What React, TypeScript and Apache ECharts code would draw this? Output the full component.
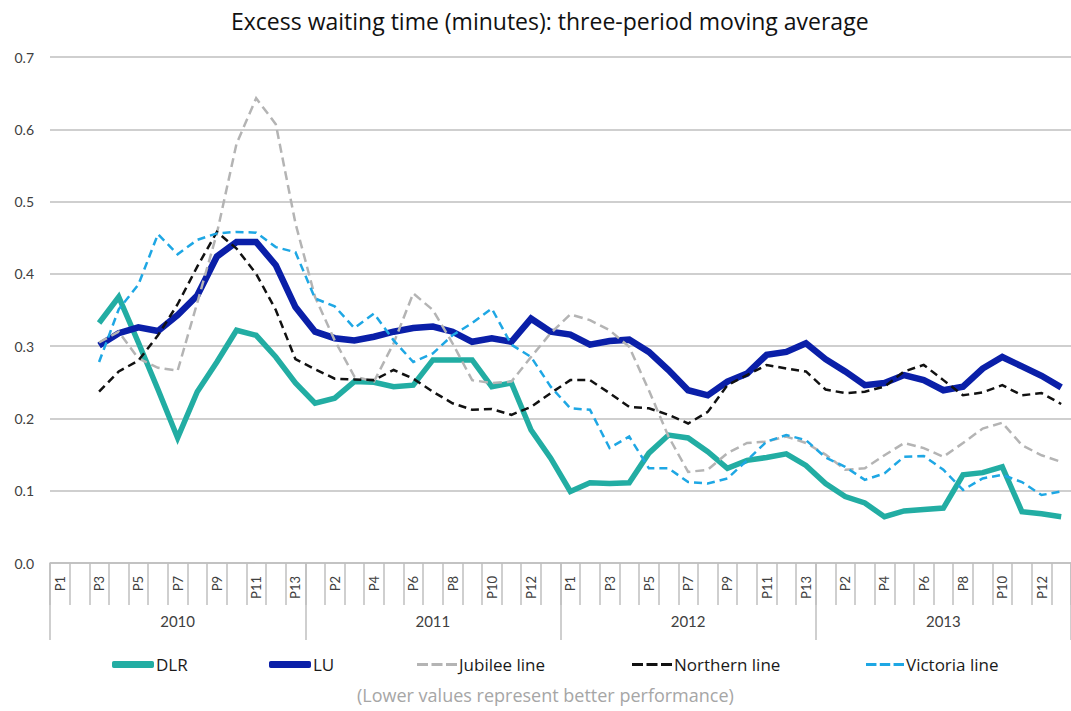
import React, { useEffect, useRef } from "react";
import * as echarts from "echarts";

const years = ["2010", "2011", "2012", "2013"];
const periods = ["P1", "P2", "P3", "P4", "P5", "P6", "P7", "P8", "P9", "P10", "P11", "P12", "P13"];
const categories: string[] = years.flatMap((y) => periods.map((p) => `${p}|${y}`));

const dlr = [null, null,
  0.332, 0.368, 0.305, 0.24, 0.173, 0.237, 0.278, 0.322, 0.315, 0.285, 0.249,
  0.221, 0.228, 0.251, 0.25, 0.244, 0.246, 0.281, 0.281, 0.281, 0.244, 0.249, 0.184, 0.145,
  0.099, 0.111, 0.11, 0.111, 0.152, 0.177, 0.173, 0.154, 0.131, 0.142, 0.146, 0.151, 0.135,
  0.11, 0.092, 0.083, 0.064, 0.072, 0.074, 0.076, 0.122, 0.125, 0.133, 0.071, 0.068, 0.064];

const lu = [null, null,
  0.301, 0.318, 0.326, 0.321, 0.343, 0.37, 0.424, 0.444, 0.444, 0.412, 0.354,
  0.32, 0.311, 0.308, 0.313, 0.32, 0.325, 0.327, 0.32, 0.306, 0.311, 0.306, 0.338, 0.32,
  0.316, 0.302, 0.307, 0.309, 0.292, 0.267, 0.239, 0.232, 0.251, 0.262, 0.288, 0.292, 0.304,
  0.282, 0.265, 0.246, 0.249, 0.26, 0.253, 0.239, 0.244, 0.269, 0.285, 0.272, 0.259, 0.243];

const jubilee = [null, null,
  0.305, 0.32, 0.283, 0.27, 0.266, 0.36, 0.456, 0.58, 0.643, 0.607, 0.47,
  0.368, 0.308, 0.258, 0.251, 0.304, 0.373, 0.35, 0.304, 0.253, 0.249, 0.251, 0.285, 0.318,
  0.344, 0.336, 0.322, 0.299, 0.239, 0.175, 0.126, 0.129, 0.152, 0.166, 0.168, 0.175, 0.166,
  0.15, 0.129, 0.131, 0.149, 0.166, 0.159, 0.147, 0.166, 0.186, 0.194, 0.163, 0.149, 0.14];

const northern = [null, null,
  0.237, 0.265, 0.28, 0.315, 0.358, 0.41, 0.458, 0.435, 0.4, 0.35, 0.282,
  0.268, 0.255, 0.254, 0.253, 0.267, 0.255, 0.237, 0.221, 0.212, 0.213, 0.205, 0.216, 0.235,
  0.253, 0.253, 0.235, 0.216, 0.214, 0.205, 0.193, 0.209, 0.246, 0.26, 0.274, 0.269, 0.265,
  0.24, 0.235, 0.237, 0.244, 0.265, 0.274, 0.253, 0.232, 0.236, 0.246, 0.232, 0.235, 0.22];

const victoria = [null, null,
  0.278, 0.351, 0.385, 0.455, 0.427, 0.447, 0.456, 0.458, 0.457, 0.437, 0.43,
  0.366, 0.355, 0.325, 0.345, 0.308, 0.278, 0.29, 0.315, 0.332, 0.352, 0.302, 0.285, 0.244,
  0.214, 0.212, 0.159, 0.175, 0.131, 0.131, 0.112, 0.11, 0.117, 0.142, 0.168, 0.177, 0.17,
  0.146, 0.133, 0.115, 0.124, 0.147, 0.148, 0.129, 0.101, 0.117, 0.122, 0.112, 0.094, 0.099];

const FONT = "Lato, 'Open Sans', sans-serif";
const FONT2 = "'Open Sans', Lato, sans-serif";

const SOLID_ICON = "roundRect";
const DASH_ICON = "path://M0,0h11v3h-11zM14.5,0h11v3h-11zM29,0h11v3h-11z";

export default function App() {
  const ref = useRef<HTMLDivElement>(null);
  useEffect(() => {
    if (!ref.current) return;
    const chart = echarts.init(ref.current, null, { renderer: "svg" });
    const mk = (name: string, data: any[], color: string, width: number, dashed?: number[]) => ({
      name,
      type: "line",
      data,
      symbol: "none",
      showSymbol: false,
      xAxisIndex: 0,
      lineStyle: { color, width, type: dashed ? dashed : "solid", cap: "butt", join: "miter" },
      itemStyle: { color },
      emphasis: { disabled: true },
    });
    const legendPos: [string, number, string, number, number][] = [
      ["DLR", 107, SOLID_ICON, 42, 7],
      ["LU", 264, SOLID_ICON, 42, 7],
      ["Jubilee line", 412, DASH_ICON, 40, 3],
      ["Northern line", 627, DASH_ICON, 40, 3],
      ["Victoria line", 861, DASH_ICON, 38, 3],
    ];
    chart.setOption({
      animation: false,
      textStyle: { fontFamily: FONT },
      title: {
        text: "Excess waiting time (minutes): three-period moving average",
        left: 226,
        top: 4,
        textStyle: { fontFamily: FONT2, fontSize: 23, fontWeight: "normal", color: "#111" },
      },
      legend: legendPos.map(([name, left, icon, w, h]) => ({
        data: [{ name, icon }],
        left,
        top: 651,
        itemWidth: w,
        itemHeight: h,
        itemGap: 4,
        selectedMode: false,
        itemStyle: { borderWidth: 0 },
        textStyle: { fontFamily: FONT2, fontSize: 17, color: "#1a1a1a", padding: [0, 0, 0, -3] },
      })),
      grid: { left: 50, right: -8, top: 57, bottom: 148 },
      xAxis: [
        {
          type: "category",
          data: categories,
          boundaryGap: true,
          axisLine: { show: true, lineStyle: { color: "#bfbfbf", width: 1.5 } },
          axisTick: { show: true, interval: 0, length: 42, lineStyle: { color: "#bfbfbf", width: 1.5 } },
          axisLabel: {
            interval: 1,
            rotate: 90,
            margin: 13,
            fontSize: 13,
            color: "#404040",
            fontFamily: FONT,
            formatter: (v: string) => v.split("|")[0],
          },
          splitLine: { show: false },
        },
        {
          type: "category",
          data: years,
          position: "bottom",
          boundaryGap: true,
          axisLine: { show: false },
          axisTick: { show: true, interval: 0, length: 77, lineStyle: { color: "#bfbfbf", width: 1.5 } },
          axisLabel: { margin: 50, fontSize: 15, color: "#404040", fontFamily: FONT },
          splitLine: { show: false },
        },
      ],
      yAxis: {
        type: "value",
        min: 0,
        max: 0.7,
        interval: 0.1,
        axisLine: { show: false },
        axisTick: { show: false },
        axisLabel: {
          margin: 16,
          fontSize: 14,
          color: "#404040",
          fontFamily: FONT,
          formatter: (v: number) => v.toFixed(1),
        },
        splitLine: { show: true, lineStyle: { color: "#bfbfbf", width: 1.5 } },
      },
      graphic: [
        {
          type: "text",
          left: 357,
          top: 686,
          style: {
            text: "(Lower values represent better performance)",
            fontFamily: FONT2,
            fontSize: 18,
            fill: "#a6a6a6",
          },
        },
      ],
      series: [
        mk("DLR", dlr, "#22ada3", 5.5),
        mk("LU", lu, "#0a1fa8", 6.5),
        mk("Jubilee line", jubilee, "#b4b4b4", 2.5, [9, 5]),
        mk("Northern line", northern, "#111111", 2.5, [8, 5]),
        mk("Victoria line", victoria, "#1ea7e4", 2.5, [8, 5]),
      ],
    });
    return () => chart.dispose();
  }, []);
  return (
    <div
      ref={ref}
      style={{ position: "absolute", left: 0, top: 0, width: 1071, height: 711, background: "#fff" }}
    />
  );
}
